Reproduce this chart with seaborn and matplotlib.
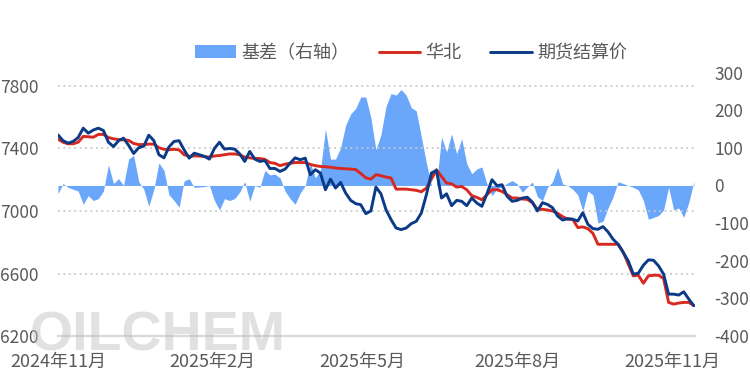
import matplotlib
matplotlib.use("Agg")
import matplotlib.pyplot as plt
from matplotlib.patches import Patch
from matplotlib.lines import Line2D
import seaborn as sns
import numpy as np
import pandas as pd

# sampled every 3 days from 2024-11-01
start_date = "2024-11-01"
step_days = 3

futures = [
    7487, 7450, 7434, 7445, 7470, 7530, 7498, 7518, 7530, 7515,
    7440, 7412, 7450, 7466, 7420, 7368, 7405, 7415, 7485, 7450,
    7360, 7340, 7410, 7445, 7450, 7391, 7338, 7370, 7360, 7350,
    7332, 7400, 7440, 7396, 7400, 7396, 7366, 7317, 7381, 7332,
    7317, 7323, 7272, 7272, 7253, 7268, 7306, 7340, 7328, 7338,
    7232, 7264, 7243, 7136, 7204, 7147, 7183, 7115, 7068, 7047,
    7040, 6983, 7000, 7153, 7110, 7008, 6945, 6891, 6881, 6891,
    6919, 6934, 6987, 7104, 7243, 7260, 7083, 7110, 7034, 7068,
    7062, 7034, 7083, 7051, 7030, 7110, 7200, 7162, 7168, 7094,
    7062, 7068, 7083, 7088, 7057, 7000, 7053, 7042, 7021, 6968,
    6942, 6951, 6947, 6936, 6989, 6915, 6887, 6883, 6900, 6866,
    6819, 6787, 6734, 6681, 6596, 6602, 6653, 6687, 6685, 6649,
    6596, 6468, 6468, 6462, 6483, 6436, 6394,
]

huabei = [
    7460, 7440, 7430, 7430, 7440, 7477, 7475, 7472, 7490, 7490,
    7470, 7462, 7457, 7455, 7452, 7432, 7425, 7425, 7428, 7428,
    7405, 7395, 7392, 7395, 7391, 7360, 7350, 7352, 7352, 7348,
    7345, 7352, 7355, 7360, 7365, 7365, 7360, 7345, 7340, 7336,
    7336, 7330, 7310, 7305, 7290, 7300, 7305, 7310, 7310, 7310,
    7298, 7290, 7285, 7283, 7280, 7275, 7272, 7270, 7268, 7265,
    7240, 7212, 7204, 7232, 7226, 7217, 7211, 7140, 7140, 7140,
    7136, 7132, 7123, 7147, 7204, 7264, 7221, 7179, 7174, 7153,
    7157, 7136, 7098, 7087, 7072, 7104, 7136, 7136, 7125, 7104,
    7083, 7083, 7077, 7074, 7053, 7011, 7011, 7006, 7000, 6985,
    6964, 6947, 6947, 6894, 6898, 6887, 6857, 6787, 6787, 6787,
    6787, 6787, 6738, 6660, 6585, 6589, 6538, 6585, 6589, 6589,
    6568, 6415, 6404, 6411, 6415, 6415, 6394,
]

basis = [
    -22, 5, -5, -10, -15, -50, -27, -40, -35, -15,
    55, 5, 18, 0, 70, 80, 10, -10, -55, -10,
    60, 40, -25, -40, -58, 12, 18, -5, -4, -3,
    0, -40, -65, -35, -40, -35, -18, 10, -42, 0,
    -5, 40, 28, 30, 20, -15, -35, -50, -20, 0,
    60, 20, 40, 150, 70, 70, 100, 160, 190, 205,
    235, 235, 180, 95, 135, 210, 244, 240, 255, 240,
    207, 198, 129, 60, 0, 0, 129, 89, 137, 84,
    124, 58, 31, 44, 49, 4, -27, -9, -4, 6,
    13, 4, -18, -4, 9, -30, -40, -5, 10, 48,
    4, 0, -10, -25, -68, -15, -25, -100, -95, -60,
    -30, 10, 5, 0, -5, -12, -40, -90, -85, -80,
    -65, -5, -65, -60, -85, -45, 10,
]

tick_dates = ["2024-11-01", "2025-02-01", "2025-05-01", "2025-08-01", "2025-11-01"]
tick_labels = ["2024年11月", "2025年2月", "2025年5月", "2025年8月", "2025年11月"]
left_ticks = [6200, 6600, 7000, 7400, 7800]
right_ticks = [-400, -300, -200, -100, 0, 100, 200, 300]

RED = "#D7291F"
NAVY = "#0B3A86"
AREA = "#6AA6FA"
GREY_TXT = "#595959"

dates = pd.date_range(start_date, periods=len(futures), freq=f"{step_days}D")
df = pd.DataFrame({"date": dates, "华北": huabei, "期货结算价": futures})
long_df = df.melt(id_vars="date", var_name="series", value_name="price")

sns.set_theme(style="white")
plt.rcParams["font.family"] = ["Noto Sans CJK SC", "DejaVu Sans"]

fig = plt.figure(figsize=(7.5, 3.86), dpi=100)
ax = fig.add_axes([0.0773, 0.1295, 0.8494, 0.6826])
ax2 = ax.twinx()

# basis area on the right axis, drawn beneath the price lines
ax2.fill_between(dates, basis, 0, color=AREA, linewidth=0)
ax2.set_ylim(-400, 300)
ax2.set_yticks(right_ticks)
ax2.set_yticklabels([str(t) for t in right_ticks])

sns.lineplot(data=long_df, x="date", y="price", hue="series",
             hue_order=["华北", "期货结算价"], palette=[RED, NAVY],
             linewidth=2.1, legend=False, ax=ax)

ax.set_zorder(ax2.get_zorder() + 1)
ax.patch.set_visible(False)

ax.set_ylim(6200, 7886)
ax.set_yticks(left_ticks)
ax.set_xlim(pd.Timestamp(start_date), pd.Timestamp(start_date) + pd.Timedelta(days=378.7))
ax.set_xticks(pd.to_datetime(tick_dates))
ax.set_xticklabels(tick_labels)
ax.set_xlabel("")
ax.set_ylabel("")

ax.yaxis.grid(True, linestyle=(0, (1, 2)), color="#c9c9c9", linewidth=1.3)
ax.xaxis.grid(False)
ax2.grid(False)

for a in (ax, ax2):
    for side in ("top", "left", "right", "bottom"):
        a.spines[side].set_visible(False)
ax.spines["bottom"].set_visible(True)
ax.spines["bottom"].set_color("#d9d9d9")
ax.spines["bottom"].set_linewidth(1.6)

ax.tick_params(axis="x", direction="in", length=5, width=1.2, color="#d9d9d9",
               labelsize=13, labelcolor=GREY_TXT, pad=12)
ax.tick_params(axis="y", length=0, labelsize=12.5, labelcolor=GREY_TXT, pad=14)
ax2.tick_params(axis="y", length=0, labelsize=12.5, labelcolor=GREY_TXT, pad=14)

handles = [
    Patch(facecolor=AREA, edgecolor="none"),
    Line2D([], [], color=RED, linewidth=2.1),
    Line2D([], [], color=NAVY, linewidth=2.1),
]
fig.legend(handles, ["基差（右轴）", "华北", "期货结算价"], loc="center",
           bbox_to_anchor=(0.548, 0.863), ncol=3, frameon=False, fontsize=13,
           handlelength=2.3, handletextpad=0.3, columnspacing=1.6,
           labelcolor=GREY_TXT)

# watermark
fig.text(0.04, 0.128, "OILCHEM", fontsize=40, fontweight="bold",
         family="Liberation Sans", color="#bdbdbd", alpha=0.45,
         ha="left", va="center")

fig.savefig("out.png", dpi=100)
plt.close(fig)
